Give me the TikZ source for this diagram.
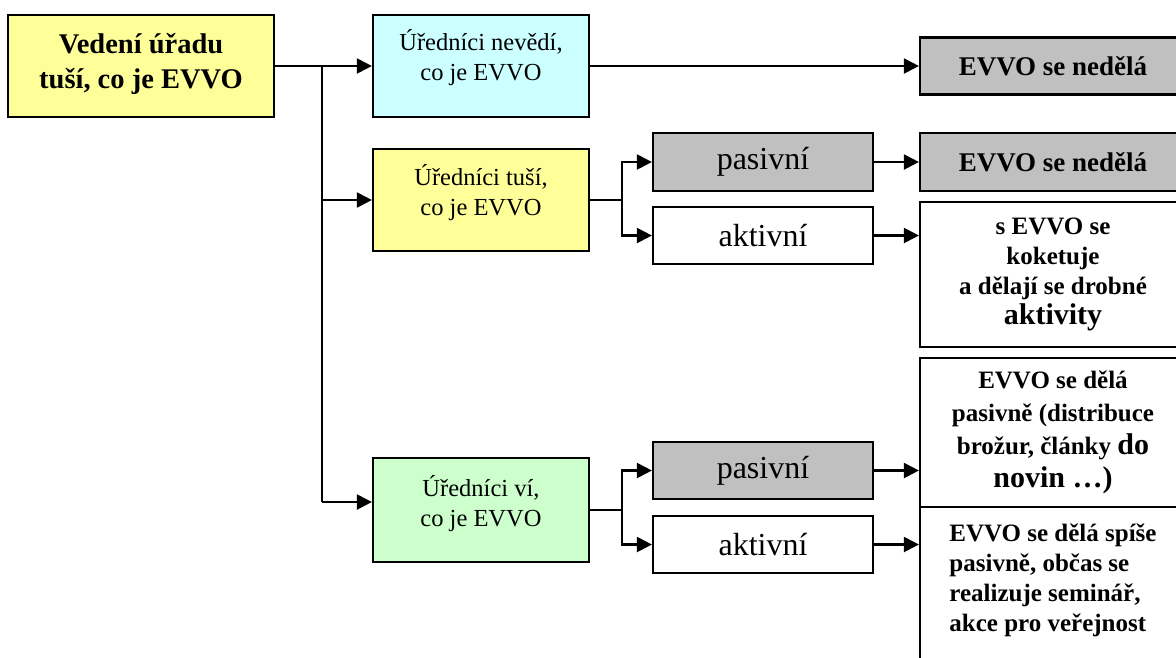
\documentclass[tikz,border=0pt]{standalone}
\usepackage{fontspec}
\setmainfont{Liberation Serif}
\usepackage{tikz}
\usetikzlibrary{arrows.meta}
\definecolor{paleyellow}{HTML}{FFFF99}
\definecolor{palecyan}{HTML}{CCFFFF}
\definecolor{palegreen}{HTML}{CCFFCC}
\definecolor{midgrey}{HTML}{C0C0C0}
\newcommand{\padbelow}[1]{\rule[-#1]{0pt}{#1}}

\begin{document}
\begin{tikzpicture}[x=1pt, y=-1pt,
    box/.style={draw=black, line width=2.2pt, inner sep=0pt, align=center},
    conn/.style={line width=2.2pt},
    arr/.style={line width=2.2pt, -{Triangle[length=15pt,width=15pt]}}]
    \useasboundingbox (0,0) rectangle (1176,657);
    % left column
    \node[box, fill=paleyellow, minimum width=266pt, minimum height=102pt,
        font=\fontsize{28.5}{35}\selectfont\bfseries] (root) at (141,66)
        {Vedení úřadu\\tuší, co je EVVO\padbelow{10pt}};
    % middle column
    \node[box, fill=palecyan, minimum width=216pt, minimum height=102pt,
        font=\fontsize{24.5}{30}\selectfont] (nevedi) at (481,66)
        {Úředníci nevědí,\\co je EVVO\padbelow{22pt}};
    \node[box, fill=paleyellow, minimum width=216pt, minimum height=102pt,
        font=\fontsize{24.5}{30}\selectfont] (tusi) at (481,200)
        {Úředníci tuší,\\co je EVVO\padbelow{20pt}};
    \node[box, fill=palegreen, minimum width=216pt, minimum height=104pt,
        font=\fontsize{24.5}{30}\selectfont] (vi) at (481,510)
        {Úředníci ví,\\co je EVVO\padbelow{18pt}};
    % pasivni / aktivni
    \node[box, fill=midgrey, minimum width=220pt, minimum height=58pt,
        font=\fontsize{32}{36}\selectfont] (pas1) at (763,162) {pasivní};
    \node[box, fill=white, minimum width=220pt, minimum height=57pt,
        font=\fontsize{32}{36}\selectfont] (akt1) at (763,235.5) {aktivní};
    \node[box, fill=midgrey, minimum width=220pt, minimum height=57pt,
        font=\fontsize{32}{36}\selectfont] (pas2) at (763,470.5) {pasivní};
    \node[box, fill=white, minimum width=220pt, minimum height=57pt,
        font=\fontsize{32}{36}\selectfont] (akt2) at (763,544.5) {aktivní};
    % right column
    \node[box, fill=midgrey, minimum width=266pt, minimum height=57pt,
        font=\fontsize{27}{30}\selectfont\bfseries] (ned1) at (1053,66) {EVVO se nedělá};
    \node[box, fill=midgrey, minimum width=266pt, minimum height=58pt,
        font=\fontsize{27}{30}\selectfont\bfseries] (ned2) at (1053,162) {EVVO se nedělá};
    \node[box, fill=white, minimum width=266pt, minimum height=145pt,
        font=\fontsize{25}{30}\selectfont\bfseries] (koket) at (1053,274.5)
        {s EVVO se\\koketuje\\a dělají se drobné\\{\fontsize{30}{30}\selectfont aktivity}};
    \node[box, fill=white, minimum width=266pt, minimum height=149pt,
        font=\fontsize{25}{33}\selectfont\bfseries] (pasdela) at (1053,432.5)
        {EVVO se dělá\\pasivně (distribuce\\brožur, články {\fontsize{30}{33}\selectfont do}\\{\fontsize{30}{33}\selectfont novin …)}};
    \node[box, fill=white, minimum width=266pt, minimum height=180pt, align=left,
        font=\fontsize{25}{30}\selectfont\bfseries] (spise) at (1053,597)
        {EVVO se dělá spíše\\pasivně, občas se\\realizuje seminář,\\akce pro veřejnost\padbelow{38pt}};
    % connectors
    \coordinate (trunk) at (322,0);
    \coordinate (fork) at (622,0);
    \coordinate (vientry) at ([yshift=8pt]vi.west);
    \draw[arr] (root.east) -- (nevedi.west);
    \draw[conn] (root.east -| trunk) -- (trunk |- vientry);
    \draw[arr] (trunk |- tusi.west) -- (tusi.west);
    \draw[arr] (trunk |- vientry) -- (vientry);
    \draw[arr] (nevedi.east) -- (ned1.west);
    \draw[conn] (tusi.east) -- (tusi.east -| fork);
    \draw[arr] (tusi.east -| fork) |- (pas1.west);
    \draw[arr] (tusi.east -| fork) |- (akt1.west);
    \draw[arr] (pas1.east) -- (ned2.west);
    \draw[arr] (akt1.east) -- (akt1.east -| koket.west);
    \draw[conn] (vi.east) -- (vi.east -| fork);
    \draw[arr] (vi.east -| fork) |- (pas2.west);
    \draw[arr] (vi.east -| fork) |- (akt2.west);
    \draw[arr] (pas2.east) -- (pas2.east -| pasdela.west);
    \draw[arr] (akt2.east) -- (akt2.east -| spise.west);
\end{tikzpicture}
\end{document}
